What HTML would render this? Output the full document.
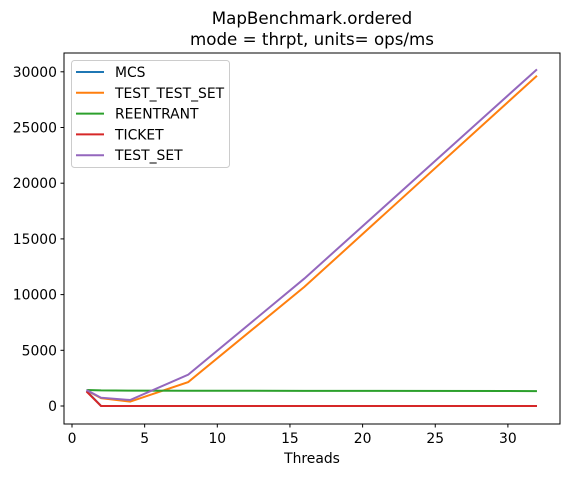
<!DOCTYPE html>
<html><head><meta charset="utf-8"><style>
body{margin:0;background:#fff;font-family:"Liberation Sans","DejaVu Sans",sans-serif}
svg text{font-family:"DejaVu Sans","Liberation Sans",sans-serif;font-size:13.9px;fill:#000}
svg text.title{font-size:16.7px}
</style></head><body>
<svg id="chart" width="569" height="476" xmlns="http://www.w3.org/2000/svg">
<text class="title" x="312" y="24" text-anchor="middle">MapBenchmark.ordered</text>
<text class="title" x="312" y="45" text-anchor="middle">mode = thrpt, units= ops/ms</text>
<g id="grid"></g>
<g id="series"></g>
<rect x="64" y="53" width="496" height="371" fill="none" stroke="#000" stroke-width="1"/>
<text x="312" y="463" text-anchor="middle">Threads</text>
<g id="legend"></g>
</svg>
<script>
const threads=[1,2,4,8,16,32];
const mcs=[1350,0,0,0,0,0];
const testTestSet=[1400,700,390,2150,10700,29650];
const reentrant=[1440,1400,1380,1370,1360,1340];
const ticket=[1300,0,0,0,0,0];
const testSet=[1430,745,540,2810,11450,30220];
const seriesNames=["MCS","TEST_TEST_SET","REENTRANT","TICKET","TEST_SET"];
const xTicks=[0,5,10,15,20,25,30];
const yTicks=[0,5000,10000,15000,20000,25000,30000];
const colors=["#1f77b4","#ff7f0e","#2ca02c","#d62728","#9467bd"];
const allSeries=[mcs,testTestSet,reentrant,ticket,testSet];
const NS="http://www.w3.org/2000/svg";
const xS=v=>72+v*14.53;
const yS=v=>406-v*55.7/5000;
const svg=document.getElementById('chart');
const grid=document.getElementById('grid');
function mk(t,a,p){const e=document.createElementNS(NS,t);for(const k in a)e.setAttribute(k,a[k]);(p||svg).appendChild(e);return e;}
xTicks.forEach(t=>{
 const l=mk('line',{x1:xS(t),x2:xS(t),y1:424,y2:427.5,stroke:'#000'},grid);
 
 
 const tx=mk('text',{x:xS(t),y:443,'text-anchor':'middle'},grid);tx.textContent=t;
 
 
});
yTicks.forEach(t=>{
 const l=mk('line',{x1:60.5,x2:64,y1:yS(t),y2:yS(t),stroke:'#000'},grid);
 
 
 const tx=mk('text',{x:57,y:yS(t)+5,'text-anchor':'end'},grid);tx.textContent=t;
 
 
});
const sg=document.getElementById('series');
allSeries.forEach((s,i)=>{
 const pts=s.map((v,j)=>xS(threads[j])+','+yS(v)).join(' ');
 const pl=mk('polyline',{points:pts,fill:'none',stroke:colors[i],'stroke-width':2},sg);
 
 
});
const lg=document.getElementById('legend');
const box=mk('rect',{x:71.5,y:60.5,width:158,height:107,rx:3,fill:'#fff','fill-opacity':0.8,stroke:'#ccc'},lg);


seriesNames.forEach((n,i)=>{
 const y=72+i*20.8;
 const l=mk('line',{x1:76,x2:104,y1:y,y2:y,stroke:colors[i],'stroke-width':2},lg);
 
 
 const t=mk('text',{x:115,y:y+5},lg);t.textContent=n;
 
 
});
</script>
</body></html>
